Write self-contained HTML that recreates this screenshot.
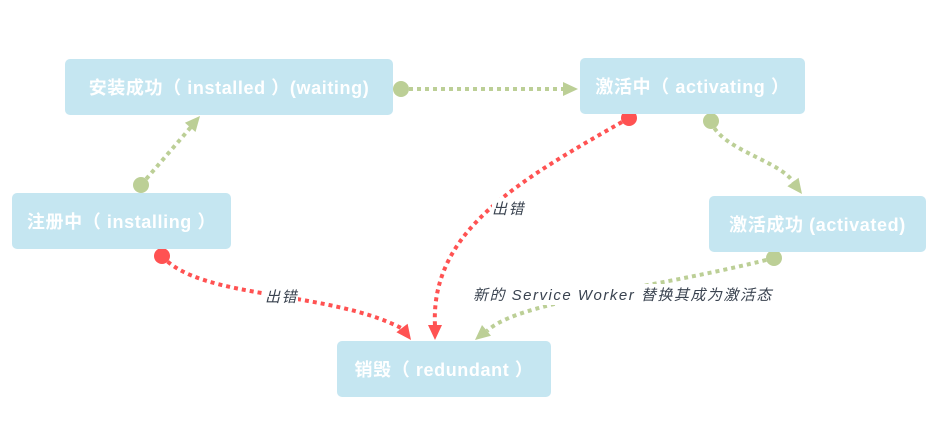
<!DOCTYPE html>
<html><head><meta charset="utf-8"><style>
html,body{margin:0;padding:0;background:#fff;width:942px;height:448px;overflow:hidden}
.b{position:absolute;background:#c5e6f1;border-radius:5px;color:#fff;font:bold 18px "Liberation Sans","Noto Sans CJK SC",sans-serif;letter-spacing:0.6px;display:flex;align-items:center;justify-content:center;white-space:nowrap}
.l{position:absolute;font:italic 15px "Liberation Sans","Noto Sans CJK SC",sans-serif;letter-spacing:1.5px;color:#3a4350;white-space:nowrap;background:#fff}
</style></head><body>
<svg width="942" height="448" style="position:absolute;left:0;top:0">
<g fill="none" stroke-width="4" stroke-dasharray="4 4">
<path d="M141,185 L191,127" stroke="#bccf96"/>
<path d="M401,89 L565,89" stroke="#bccf96"/>
<path d="M629,118 C520,180 430,230 435,326" stroke="#ff5252"/>
<path d="M711,121 C720,150 780,160 794,183" stroke="#bccf96"/>
<path d="M162,256 C200,300 330,290 403,329" stroke="#ff5252"/>
<path d="M774,258 C650,290 520,300 487,331" stroke="#bccf96"/>
</g>
<g fill="#bccf96">
<circle cx="141" cy="185" r="8"/><circle cx="401" cy="89" r="8"/><circle cx="711" cy="121" r="8"/><circle cx="774" cy="258" r="8"/>
<polygon points="200,116 195.5,132 184.9,122.8"/>
<polygon points="578,89 563,82 563,96"/>
<polygon points="802,194 798.6,177.8 787.4,186.2"/>
<polygon points="475,340 491,335.8 482,325"/>
</g>
<g fill="#ff5252">
<circle cx="629" cy="118" r="8"/><circle cx="162" cy="256" r="8"/>
<polygon points="435,340 428,325 442,325"/>
<polygon points="411,340 407.6,323.8 396.4,332.2"/>
</g>
</svg>
<div class="b" style="left:65px;top:59px;width:328px;height:56px">安装成功（ installed ）(waiting)</div>
<div class="b" style="left:12px;top:193px;width:219px;height:56px">注册中（ installing ）</div>
<div class="b" style="left:580px;top:58px;width:225px;height:56px">激活中（ activating ）</div>
<div class="b" style="left:709px;top:196px;width:217px;height:56px">激活成功 (activated)</div>
<div class="b" style="left:337px;top:341px;width:214px;height:56px">销毁（ redundant ）</div>
<div class="l" style="left:492px;top:198px">出错</div>
<div class="l" style="left:265px;top:286px">出错</div>
<div class="l" style="left:473px;top:284px">新的 Service Worker 替换其成为激活态</div>
</body></html>
